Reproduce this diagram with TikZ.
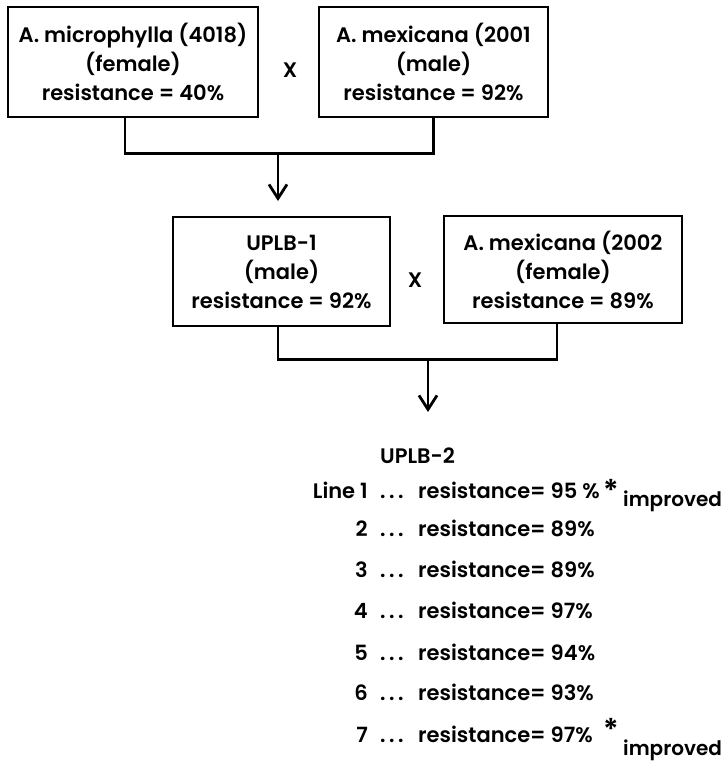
\documentclass[tikz,border=0pt]{standalone}
\usepackage{fontspec}
\setmainfont{Poppins}[UprightFont={* SemiBold}]
\usetikzlibrary{arrows.meta}
\newcommand{\boxfont}{\fontsize{21}{29}\selectfont}
\newcommand{\listfont}{\fontsize{21}{26}\selectfont}
\newcommand{\mydots}{.\hspace{3.5pt}.\hspace{3.5pt}.}
\begin{document}
\begin{tikzpicture}[x=1pt,y=-1pt]
\tikzset{
  boxnode/.style={draw, line width=2.8pt, align=center, inner sep=0pt, font=\boxfont},
  cross/.style={font=\boxfont, inner sep=0pt},
  wire/.style={line width=2.8pt},
  arr/.style={line width=2.8pt, -{Straight Barb[length=14pt,width=18pt,line width=2.8pt]}},
  lab/.style={font=\listfont, inner sep=0pt, anchor=base west},
  num/.style={font=\listfont, inner sep=0pt, anchor=base east},
  sup/.style={font=\fontsize{30}{30}\selectfont, inner sep=0pt},
}
\useasboundingbox (0,0) rectangle (722,764);
\node[boxnode, minimum width=250pt, minimum height=110pt] (b1) at (133,62) {A. microphylla (4018)\\(female)\\resistance = 40\%};
\node[boxnode, minimum width=229pt, minimum height=110pt] (b2) at (433.5,62) {A. mexicana (2001\\(male)\\resistance = 92\%};
\node[cross] (x1) at (290,70) {X};
\node[boxnode, minimum width=217pt, minimum height=109pt] (b3) at (281.5,271.5) {UPLB-1\\(male)\\resistance = 92\%};
\node[boxnode, minimum width=238pt, minimum height=107pt] (b4) at (563,269.5) {A. mexicana (2002\\(female)\\resistance = 89\%};
\node[cross] (x2) at (415,280) {X};
\draw[wire] ([xshift=-8pt]b1.south) -- ++(0,35) -| (b2.south);
\coordinate (j1) at (278,152);
\coordinate (a1) at (278,201);
\draw[arr] (j1) -- (a1);
\draw[wire] ([xshift=-3.5pt]b3.south) -- ++(0,32) -| ([xshift=-6pt]b4.south);
\coordinate (j2) at (428,358);
\coordinate (a2) at (428,412);
\draw[arr] (j2) -- (a2);
\node[lab] (up) at (380,463) {UPLB-2};
\foreach \i/\n/\y/\v in {1/Line 1/498/95 \%,2/2/536/89\%,3/3/577/89\%,4/4/618/97\%,5/5/660/94\%,6/6/700/93\%,7/7/742/97\%}{
  \node[num] (n\i) at (368,\y) {\n};
  \node[lab] (d\i) at (380,\y) {\mydots};
  \node[lab] (r\i) at (418,\y) {resistance= \v};
}
\node[sup] (s1) at (611,490) {*};
\node[lab, font=\fontsize{20}{20}\selectfont] (i1) at (623,506) {improved};
\node[sup] (s7) at (611,729) {*};
\node[lab, font=\fontsize{20}{20}\selectfont] (i7) at (623,755) {improved};
\end{tikzpicture}
\end{document}
